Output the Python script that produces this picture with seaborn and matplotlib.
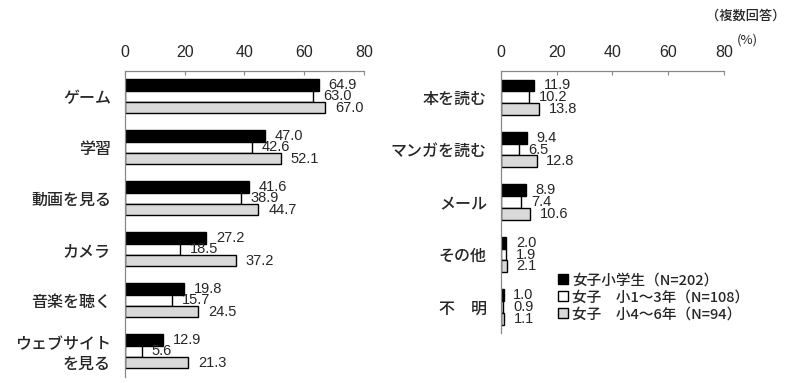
import numpy as np
import pandas as pd
import matplotlib
matplotlib.use("Agg")
import matplotlib.pyplot as plt
import seaborn as sns
from matplotlib.patches import Patch

# data
left_cats = ["ゲーム", "学習", "動画を見る", "カメラ", "音楽を聴く", "ウェブサイト\nを見る"]
left_all = [64.9, 47.0, 41.6, 27.2, 19.8, 12.9]
left_low = [63.0, 42.6, 38.9, 18.5, 15.7, 5.6]
left_high = [67.0, 52.1, 44.7, 37.2, 24.5, 21.3]

right_cats = ["本を読む", "マンガを読む", "メール", "その他", "不　明"]
right_all = [11.9, 9.4, 8.9, 2.0, 1.0]
right_low = [10.2, 6.5, 7.4, 1.9, 0.9]
right_high = [13.8, 12.8, 10.6, 2.1, 1.1]

groups = ["女子小学生（N=202）", "女子　小1～3年（N=108）", "女子　小4～6年（N=94）"]
group_colors = ["#000000", "#ffffff", "#d9d9d9"]
xticks = [0, 20, 40, 60, 80]

sns.set_style("white")
plt.rcParams["font.family"] = ["Noto Sans CJK JP", "DejaVu Sans"]

JP = ["Noto Sans CJK JP", "DejaVu Sans"]
NUM = ["Liberation Sans", "DejaVu Sans"]


def long_df(cats, a, b, c):
    rows = []
    for vals, g in zip([a, b, c], groups):
        for cat, v in zip(cats, vals):
            rows.append({"cat": cat, "group": g, "value": v})
    return pd.DataFrame(rows)


def draw(ax, cats, a, b, c):
    df = long_df(cats, a, b, c)
    sns.barplot(data=df, y="cat", x="value", hue="group", hue_order=groups,
                order=cats, palette=group_colors, edgecolor="black",
                linewidth=1.0, width=0.67, orient="h", legend=False, ax=ax)
    for cont in ax.containers:
        ax.bar_label(cont, fmt="%.1f", padding=7, fontsize=10.5, family=NUM)
    ax.set_xlim(0, 80)
    ax.set_ylim(len(cats) - 0.5, -0.5)
    ax.set_xticks(xticks)
    ax.xaxis.tick_top()
    ax.tick_params(axis="x", direction="in", length=3, pad=8, labelsize=11.5,
                   color="#888888")
    for lab in ax.get_xticklabels():
        lab.set_family(NUM)
    ax.set_yticks(np.arange(len(cats)))
    ax.set_yticks(np.arange(len(cats) + 1) - 0.5, minor=True)
    ax.tick_params(axis="y", which="major", length=0, pad=10, labelsize=11.5)
    ax.tick_params(axis="y", which="minor", direction="in", length=3,
                   color="#888888")
    for lab in ax.get_yticklabels():
        lab.set_family(JP)
        lab.set_fontweight("medium")
        lab.set_horizontalalignment("right")
    ax.set_xlabel("")
    ax.set_ylabel("")
    for s in ["right", "bottom"]:
        ax.spines[s].set_visible(False)
    for s in ["top", "left"]:
        ax.spines[s].set_color("#888888")
        ax.spines[s].set_linewidth(0.9)


fig = plt.figure(figsize=(8, 3.83), dpi=100)
ax1 = fig.add_axes([0.156, 0.016, 0.299, 0.799])
ax2 = fig.add_axes([0.626, 0.130, 0.279, 0.685])
draw(ax1, left_cats, left_all, left_low, left_high)
draw(ax2, right_cats, right_all, right_low, right_high)

handles = [Patch(facecolor=c, edgecolor="black", linewidth=1.0) for c in group_colors]
fig.legend(handles, groups, loc="upper left", bbox_to_anchor=(0.688, 0.305),
           frameon=False, handlelength=0.7, handleheight=0.7, handletextpad=0.3,
           labelspacing=0.2, borderpad=0,
           prop={"family": JP, "size": 10.5, "weight": "medium"})

fig.text(0.982, 0.96, "（複数回答）", ha="right", va="center", fontsize=9.5,
         family=JP, fontweight="medium")
fig.text(0.947, 0.895, "(%)", ha="right", va="center", fontsize=9.5, family=JP)

fig.savefig("out.png", dpi=100)
